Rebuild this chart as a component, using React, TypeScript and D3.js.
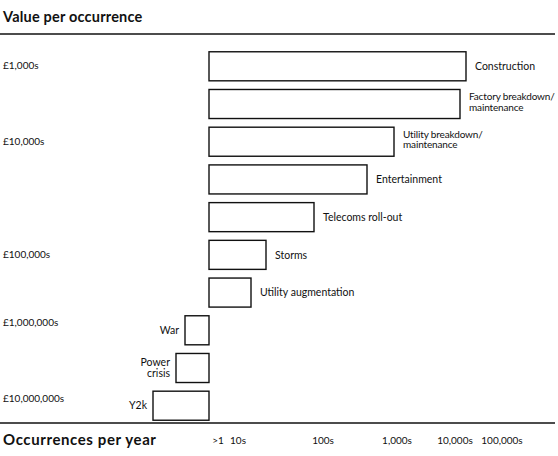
import * as d3 from "d3";

// activities, top to bottom
const activities = [
  "Construction",
  "Factory breakdown/maintenance",
  "Utility breakdown/maintenance",
  "Entertainment",
  "Telecoms roll-out",
  "Storms",
  "Utility augmentation",
  "War",
  "Power crisis",
  "Y2k",
];
// how often it happens (relative index, negative = rarer than once a year)
const frequency = [257, 251, 185, 158, 105, 57, 42, -24, -33, -56];
// how labels wrap
const labelLines = [
  ["Construction"],
  ["Factory breakdown/", "maintenance"],
  ["Utility breakdown/", "maintenance"],
  ["Entertainment"],
  ["Telecoms roll-out"],
  ["Storms"],
  ["Utility augmentation"],
  ["War"],
  ["Power", "crisis"],
  ["Y2k"],
];

const valueLabels = ["£1,000s", "£10,000s", "£100,000s", "£1,000,000s", "£10,000,000s"];
const valueAt = ["Construction", "Utility breakdown/maintenance", "Storms", "War", "Y2k"];

const occurrenceLabels = [">1", "10s", "100s", "1,000s", "10,000s", "100,000s"];
const occurrenceAt = [9, 29, 114, 188, 246, 293];

const W = 558;
const H = 456;
const FONT = "Lato, 'Open Sans', sans-serif";

export default function App() {
  const y = d3.scaleBand<string>().domain(activities).range([48, 424]).paddingInner(0.23).paddingOuter(0.1);
  const x = d3.scaleLinear().domain([0, 300]).range([209, 509]);
  const bw = y.bandwidth();

  return (
    <svg
      width={W}
      height={H}
      style={{ position: "absolute", left: 0, top: 0, background: "#fff" }}
      fontFamily={FONT}
    >
      <text x={3} y={22} fontSize={14.5} fontWeight={700} letterSpacing={0.2} fill="#111">
        Value per occurrence
      </text>
      <line x1={0} x2={555} y1={34} y2={34} stroke="#111" strokeWidth={1.5} />

      {valueLabels.map((t, i) => (
        <text
          key={t}
          x={3}
          y={(y(valueAt[i]) ?? 0) + bw / 2 + (i >= 3 ? -4 : 3)}
          fontSize={10}
          fill="#111"
        >
          {t}
        </text>
      ))}

      {activities.map((a, i) => {
        const v = frequency[i];
        const x0 = Math.min(x(0), x(v));
        const x1 = Math.max(x(0), x(v));
        const top = y(a) ?? 0;
        const cy = top + bw / 2;
        const lines = labelLines[i];
        const right = v >= 0;
        const wrapped = lines.length > 1 && right;
        const lx = right ? x1 + 9 : x0 - 6;
        const lh = 10.5;
        return (
          <g key={a}>
            <rect
              x={x0}
              y={top}
              width={x1 - x0}
              height={bw}
              fill="#fff"
              stroke="#111"
              strokeWidth={1.4}
            />
            {lines.map((l, j) => (
              <text
                key={l}
                x={lx}
                y={cy - ((lines.length - 1) * lh) / 2 + j * lh - (wrapped ? 2 : 0)}
                dy="0.35em"
                fontSize={wrapped ? 10 : 10.5}
                letterSpacing={wrapped ? -0.15 : 0}
                fill="#111"
                textAnchor={right ? "start" : "end"}
              >
                {l}
              </text>
            ))}
          </g>
        );
      })}

      <line x1={0} x2={555} y1={423} y2={423} stroke="#111" strokeWidth={1.5} />
      <text x={3} y={445} fontSize={15} fontWeight={700} letterSpacing={0.6} fill="#111">
        Occurrences per year
      </text>
      {occurrenceLabels.map((t, i) => (
        <text
          key={t}
          x={x(occurrenceAt[i])}
          y={444}
          fontSize={10}
          textAnchor="middle"
          fill="#111"
        >
          {t}
        </text>
      ))}
    </svg>
  );
}
